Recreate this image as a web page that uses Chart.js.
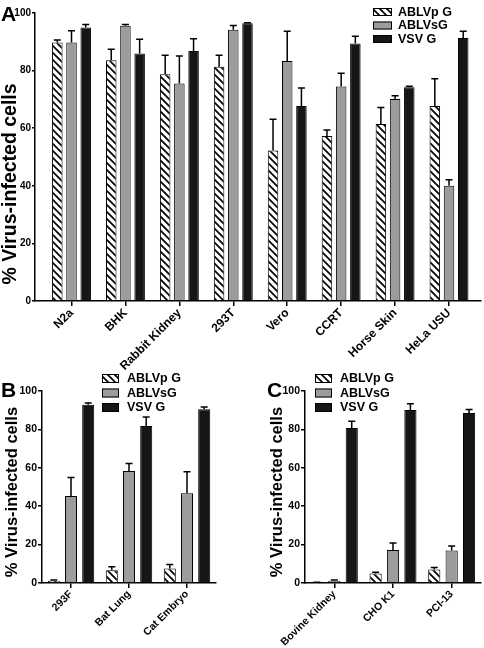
<!DOCTYPE html>
<html>
<head>
<meta charset="utf-8">
<script src="https://cdn.jsdelivr.net/npm/chart.js@4.4.1/dist/chart.umd.min.js"></script>
<style>
  body { margin: 0; background: #fff; }
  #wrap { position: relative; width: 484px; height: 648px; }
  canvas { position: absolute; }
</style>
</head>
<body>
<div id="wrap">
  <canvas id="chartA" width="484" height="372" style="left:0;top:0"></canvas>
  <canvas id="chartB" width="242" height="283" style="left:0;top:365px"></canvas>
  <canvas id="chartC" width="242" height="283" style="left:242px;top:365px"></canvas>
</div>
<script>
const seriesNames = ['ABLVp G', 'ABLVsG', 'VSV G'];
const yTitle = '% Virus-infected cells';
const yTicks = [0, 20, 40, 60, 80, 100];

// panel A
const cellsA = ['N2a', 'BHK', 'Rabbit Kidney', '293T', 'Vero', 'CCRT', 'Horse Skin', 'HeLa USU'];
const ablvpA = [89.8, 83.6, 78.7, 81.3, 52.3, 57.3, 61.5, 67.7];
const ablvpErrA = [0.8, 3.8, 6.6, 4.0, 10.8, 2.1, 5.7, 9.5];
const ablvsA = [89.8, 95.6, 75.5, 94.2, 83.3, 74.5, 70.1, 40.0];
const ablvsErrA = [4.0, 0.4, 9.6, 1.5, 10.4, 4.6, 1.2, 2.1];
const vsvA = [95.0, 85.9, 86.8, 96.4, 67.7, 89.4, 74.2, 91.3];
const vsvErrA = [1.0, 5.0, 4.3, 0.2, 6.3, 2.5, 0.4, 2.4];

// panel B
const cellsB = ['293F', 'Bat Lung', 'Cat Embryo'];
const ablvpB = [1.2, 6.7, 7.6];
const ablvpErrB = [0.3, 1.8, 2.1];
const ablvsB = [45.3, 58.3, 46.7];
const ablvsErrB = [9.7, 4.0, 11.3];
const vsvB = [92.9, 81.8, 90.5];
const vsvErrB = [0.9, 4.7, 1.2];

// panel C
const cellsC = ['Bovine Kidney', 'CHO K1', 'PCI-13'];
const ablvpC = [0.3, 5.0, 7.0];
const ablvpErrC = [0.1, 0.6, 1.1];
const ablvsC = [1.2, 17.2, 16.9];
const ablvsErrC = [0.3, 3.6, 2.4];
const vsvC = [80.7, 90.1, 88.5];
const vsvErrC = [3.6, 3.3, 1.8];

const fontFamily = '"Liberation Sans", Arial, Helvetica, sans-serif';
Chart.defaults.font.family = fontFamily;
Chart.defaults.font.weight = 'bold';
Chart.defaults.color = '#000';

const GRAY = '#9c9c9c';
const BLACK = '#161616';

function makeHatch(canvas) {
    const n = 7;
    const c = document.createElement('canvas');
    c.width = n; c.height = n;
    const g = c.getContext('2d');
    g.fillStyle = '#fff';
    g.fillRect(0, 0, n, n);
    g.strokeStyle = '#000';
    g.lineWidth = 1.7;
    g.beginPath();
    g.moveTo(-1, -1); g.lineTo(n + 1, n + 1);
    g.moveTo(-1, n - 1); g.lineTo(1, n + 1);
    g.moveTo(n - 1, -1); g.lineTo(n + 1, 1);
    g.stroke();
    return canvas.getContext('2d').createPattern(c, 'repeat');
}

// upward-only error bars
const errorBars = {
    id: 'errorBars',
    afterDatasetsDraw(chart) {
        const ctx = chart.ctx;
        const y = chart.scales.y;
        ctx.save();
        ctx.strokeStyle = '#000';
        ctx.lineWidth = 1.5;
        chart.data.datasets.forEach((ds, i) => {
            const meta = chart.getDatasetMeta(i);
            meta.data.forEach((bar, j) => {
                const err = ds.errors[j];
                const val = y.getValueForPixel(bar.y);
                const top = y.getPixelForValue(val + err);
                ctx.beginPath();
                ctx.moveTo(bar.x, bar.y);
                ctx.lineTo(bar.x, top);
                ctx.moveTo(bar.x - 3.5, top);
                ctx.lineTo(bar.x + 3.5, top);
                ctx.stroke();
            });
        });
        ctx.restore();
    }
};

// panel letter, rotated y title and the legend
const panelText = {
    id: 'panelText',
    afterDraw(chart, args, o) {
        const ctx = chart.ctx;
        ctx.save();
        ctx.fillStyle = '#000';
        ctx.textAlign = 'left';
        ctx.textBaseline = 'alphabetic';
        ctx.font = `bold ${o.letterSize}px ${fontFamily}`;
        ctx.fillText(o.letter, o.letterX, o.letterY);

        ctx.save();
        ctx.translate(o.titleX, o.titleY);
        ctx.rotate(-Math.PI / 2);
        ctx.font = `bold ${o.titleSize}px ${fontFamily}`;
        ctx.textAlign = 'center';
        ctx.textBaseline = 'middle';
        ctx.fillText(yTitle, 0, 0);
        ctx.restore();

        ctx.font = `bold ${o.legendSize}px ${fontFamily}`;
        ctx.textBaseline = 'middle';
        chart.data.datasets.forEach((ds, i) => {
            const cy = o.legendY + i * o.legendGap;
            ctx.fillStyle = ds.backgroundColor;
            ctx.fillRect(o.legendX, cy - o.swH / 2, o.swW, o.swH);
            ctx.strokeStyle = '#000';
            ctx.lineWidth = 1;
            ctx.strokeRect(o.legendX + 0.5, cy - o.swH / 2 + 0.5, o.swW - 1, o.swH - 1);
            ctx.fillStyle = '#000';
            ctx.fillText(ds.label, o.legendX + o.swW + o.textGap, cy + 0.5);
        });
        ctx.restore();
    }
};

function yAxis(width, size, tickLen, pad) {
    return {
        min: 0,
        max: 100,
        afterBuildTicks: s => { s.ticks = yTicks.map(v => ({ value: v })); },
        ticks: { font: { size: size, weight: 'bold' }, padding: pad },
        grid: { drawOnChartArea: false, color: '#000', lineWidth: 1.5, tickLength: tickLen },
        border: { color: '#000', width: 1.5 },
        afterFit: s => { s.width = width; }
    };
}

function datasets(canvas, p, pe, s, se, v, ve, asPoints) {
    const pick = arr => asPoints ? arr.map((val, i) => ({ x: i, y: val })) : arr;
    return [
        { label: seriesNames[0], data: pick(p), errors: pe, backgroundColor: makeHatch(canvas) },
        { label: seriesNames[1], data: pick(s), errors: se, backgroundColor: GRAY },
        { label: seriesNames[2], data: pick(v), errors: ve, backgroundColor: BLACK }
    ];
}

// ---- A ----
const canvasA = document.getElementById('chartA');
new Chart(canvasA, {
    type: 'bar',
    data: {
        datasets: datasets(canvasA, ablvpA, ablvpErrA, ablvsA, ablvsErrA, vsvA, vsvErrA, true)
    },
    options: {
        responsive: false,
        animation: false,
        layout: { padding: { top: 13, right: 3, left: 0, bottom: 0 } },
        datasets: {
            bar: { borderColor: '#000', borderWidth: 1, categoryPercentage: 0.79, barPercentage: 0.74 }
        },
        plugins: {
            legend: { display: false },
            tooltip: { enabled: false },
            panelText: {
                letter: 'A', letterSize: 21, letterX: 1, letterY: 21,
                titleX: 11, titleY: 184, titleSize: 19.5,
                legendX: 373, legendY: 12, legendGap: 13.5, swW: 19, swH: 8, textGap: 6, legendSize: 12.5
            }
        },
        scales: {
            x: {
                type: 'linear',
                offset: false,
                min: -0.677,
                max: 7.593,
                afterBuildTicks: s => { s.ticks = cellsA.map((_, i) => ({ value: i })); },
                ticks: {
                    autoSkip: false,
                    minRotation: 45,
                    maxRotation: 45,
                    padding: 0,
                    font: { size: 12, weight: 'bold' },
                    callback: value => cellsA[value]
                },
                grid: { drawOnChartArea: false, offset: false, color: '#000', lineWidth: 1.5, tickLength: 5 },
                border: { color: '#000', width: 1.5 },
                afterFit: s => { s.height = 71; }
            },
            y: yAxis(35, 10, 3, 1)
        }
    },
    plugins: [errorBars, panelText]
});

// ---- B and C ----
function smallPanel(canvas, cells, sets, letter, letterX, titleX, legendX, yWidth, padRight) {
    new Chart(canvas, {
        type: 'bar',
        data: { labels: cells, datasets: sets },
        options: {
            responsive: false,
            animation: false,
            layout: { padding: { top: 26, right: padRight, left: 0, bottom: 0 } },
            datasets: {
                bar: { borderColor: '#000', borderWidth: 1, categoryPercentage: 0.89, barPercentage: 0.7 }
            },
            plugins: {
                legend: { display: false },
                tooltip: { enabled: false },
                panelText: {
                    letter: letter, letterSize: 21, letterX: letterX, letterY: 32,
                    titleX: titleX, titleY: 127, titleSize: 16.5,
                    legendX: legendX, legendY: 13.5, legendGap: 14.5, swW: 17, swH: 9, textGap: 8, legendSize: 12.5
                }
            },
            scales: {
                x: {
                    offset: true,
                    ticks: {
                        autoSkip: false,
                        minRotation: 45,
                        maxRotation: 45,
                        padding: 0,
                        font: { size: 10.5, weight: 'bold' }
                    },
                    grid: { drawOnChartArea: false, offset: false, color: '#000', lineWidth: 1.5, tickLength: 5 },
                    border: { color: '#000', width: 1.5 },
                    afterFit: s => { s.height = 65; }
                },
                y: yAxis(yWidth, 10.5, 4, 1)
            }
        },
        plugins: [errorBars, panelText]
    });
}

const canvasB = document.getElementById('chartB');
smallPanel(canvasB, cellsB,
    datasets(canvasB, ablvpB, ablvpErrB, ablvsB, ablvsErrB, vsvB, vsvErrB, false),
    'B', 1, 12, 102, 42, 26);

const canvasC = document.getElementById('chartC');
smallPanel(canvasC, cellsC,
    datasets(canvasC, ablvpC, ablvpErrC, ablvsC, ablvsErrC, vsvC, vsvErrC, false),
    'C', 25, 35, 73, 63, 3);
</script>
</body>
</html>
